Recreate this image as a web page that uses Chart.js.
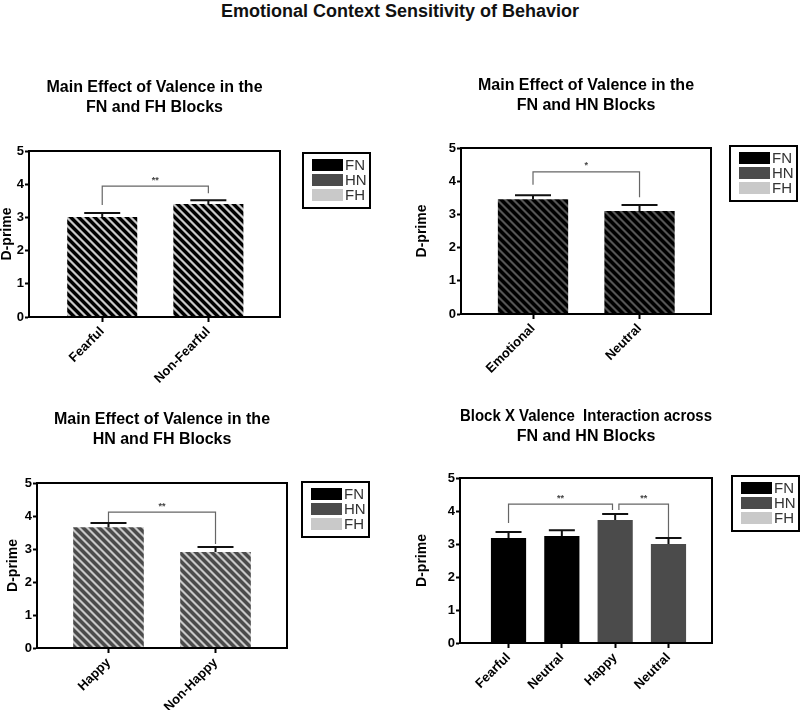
<!DOCTYPE html>
<html>
<head>
<meta charset="utf-8">
<script src="https://cdn.jsdelivr.net/npm/chart.js@4/dist/chart.umd.min.js"></script>
<style>
  body { margin: 0; background: #fff; }
  #page { position: relative; width: 800px; height: 710px; overflow: hidden; }
  #main-title {
    position: absolute; top: 1px; left: 0; width: 800px; text-align: center;
    font: bold 18px 'Liberation Sans Narrow', 'Liberation Sans', Arial, sans-serif;
    color: #111;
  }
  canvas { position: absolute; }
</style>
</head>
<body>
<div id="page">
  <div id="main-title">Emotional Context Sensitivity of Behavior</div>
  <canvas id="p1" width="400" height="330" style="left:0;top:60px"></canvas>
  <canvas id="p2" width="400" height="330" style="left:400px;top:60px"></canvas>
  <canvas id="p3" width="400" height="320" style="left:0;top:390px"></canvas>
  <canvas id="p4" width="400" height="320" style="left:400px;top:390px"></canvas>
</div>
<script>
// ---- data ----
const yTicks = [0, 1, 2, 3, 4, 5];
const legendLabels = ['FN', 'HN', 'FH'];

const p1Categories = ['Fearful', 'Non-Fearful'];
const p1Means = [3.01, 3.40];
const p1Errors = [0.12, 0.12];
const p1Brackets = [{ from: 0, to: 1, y: 3.94, yFrom: 3.37, yTo: 3.73, label: '**' }];

const p2Categories = ['Emotional', 'Neutral'];
const p2Means = [3.46, 3.10];
const p2Errors = [0.12, 0.18];
const p2Brackets = [{ from: 0, to: 1, y: 4.28, yFrom: 3.89, yTo: 3.52, label: '*' }];

const p3Categories = ['Happy', 'Non-Happy'];
const p3Means = [3.66, 2.91];
const p3Errors = [0.13, 0.15];
const p3Brackets = [{ from: 0, to: 1, y: 4.12, yFrom: 3.82, yTo: 3.15, label: '**' }];

const p4Categories = ['Fearful', 'Neutral', 'Happy', 'Neutral'];
const p4Means = [3.18, 3.24, 3.73, 3.00];
const p4Errors = [0.18, 0.18, 0.18, 0.18];
const p4Brackets = [
    { from: 0, to: 1.95, y: 4.21, yFrom: 3.64, yTo: 4.03, label: '**' },
    { from: 2.07, to: 3, y: 4.21, yFrom: 4.03, yTo: 3.21, label: '**' }
];

// ---- styles ----
const FONT = "'Liberation Sans', Arial, sans-serif";
const FN_COLOR = '#000000';
const HN_COLOR = '#4b4b4b';
const FH_COLOR = '#c9c9c9';
const legendColors = [FN_COLOR, HN_COLOR, FH_COLOR];

// diagonal "\" stripes, drawn pixel by pixel so the tile repeats cleanly
const stripes = (fg, bg, mid) => {
    const s = 8;
    const c = document.createElement('canvas');
    c.width = c.height = s;
    const g = c.getContext('2d');
    for (let i = 0; i < s; i++) {
        for (let j = 0; j < s; j++) {
            const d = ((i - j) % s + s) % s;
            g.fillStyle = d < 4 ? fg : (d === 4 || d === 7 ? mid : bg);
            g.fillRect(i, j, 1, 1);
        }
    }
    return g.createPattern(c, 'repeat');
};

// draws frame, error bars, significance brackets and the boxed legend
const extrasPlugin = (cfg) => ({
    id: 'extras',
    afterDatasetsDraw(chart) {
        const { ctx, scales: { x, y } } = chart;
        ctx.save();
        // error bars (upper only)
        ctx.strokeStyle = '#111';
        ctx.lineWidth = 2;
        cfg.means.forEach((m, i) => {
            const px = x.getPixelForValue(i);
            const yb = y.getPixelForValue(m);
            const yt = y.getPixelForValue(m + cfg.errors[i]);
            ctx.beginPath();
            ctx.moveTo(px, yb);
            ctx.lineTo(px, yt);
            ctx.moveTo(px - cfg.capHalf, yt);
            ctx.lineTo(px + cfg.capHalf, yt);
            ctx.stroke();
        });
        // brackets
        ctx.strokeStyle = '#666';
        ctx.lineWidth = 1.2;
        ctx.fillStyle = '#444';
        ctx.font = 'bold 9px ' + FONT;
        ctx.textAlign = 'center';
        ctx.textBaseline = 'middle';
        cfg.brackets.forEach(b => {
            const x1 = x.getPixelForValue(b.from);
            const x2 = x.getPixelForValue(b.to);
            const yy = y.getPixelForValue(b.y);
            ctx.beginPath();
            ctx.moveTo(x1, y.getPixelForValue(b.yFrom));
            ctx.lineTo(x1, yy);
            ctx.lineTo(x2, yy);
            ctx.lineTo(x2, y.getPixelForValue(b.yTo));
            ctx.stroke();
            ctx.fillText(b.label, (x1 + x2) / 2, yy - 6);
        });
        ctx.restore();
    },
    afterDraw(chart) {
        const { ctx, chartArea: a } = chart;
        ctx.save();
        ctx.strokeStyle = '#000';
        ctx.lineWidth = 2;
        ctx.strokeRect(a.left, a.top, a.right - a.left, a.bottom - a.top);

        // legend box
        const lx = a.right + cfg.legendDx;
        const ly = a.top + cfg.legendDy;
        ctx.strokeRect(lx, ly, 67, 55);
        ctx.font = '15px ' + FONT;
        ctx.textAlign = 'left';
        ctx.textBaseline = 'middle';
        legendLabels.forEach((lab, i) => {
            const cy = ly + 12 + i * 15;
            ctx.fillStyle = legendColors[i];
            ctx.fillRect(lx + 9, cy - 6, 31, 12);
            ctx.fillStyle = '#333';
            ctx.fillText(lab, lx + 42, cy + 1);
        });
        ctx.restore();
    }
});

const makePanel = (id, cfg) => {
    const ctx = document.getElementById(id).getContext('2d');
    return new Chart(ctx, {
        type: 'bar',
        data: {
            datasets: [{
                data: cfg.means.map((v, i) => ({ x: i, y: v })),
                backgroundColor: cfg.fills,
                borderWidth: 0,
                categoryPercentage: 1,
                barPercentage: 0.66
            }]
        },
        options: {
            responsive: false,
            animation: false,
            events: [],
            layout: { padding: { left: 0, right: cfg.padRight, top: 0, bottom: 0 } },
            plugins: {
                legend: { display: false },
                tooltip: { enabled: false },
                title: {
                    display: true,
                    fullSize: false,
                    text: cfg.title,
                    color: '#000',
                    font: { family: FONT, size: 16, weight: 'bold', lineHeight: 1.2 },
                    padding: { top: cfg.titleTop, bottom: cfg.titleBottom }
                }
            },
            scales: {
                x: {
                    type: 'linear',
                    min: cfg.xMin,
                    max: cfg.xMax,
                    bounds: 'data',
                    offset: false,
                    afterBuildTicks: s => { s.ticks = cfg.categories.map((c, i) => ({ value: i })); },
                    afterFit: s => { s.height = cfg.xHeight; },
                    ticks: {
                        callback: v => cfg.categories[v],
                        autoSkip: false,
                        minRotation: 45,
                        maxRotation: 45,
                        padding: 2,
                        color: '#000',
                        font: { family: FONT, size: 13, weight: 'bold' }
                    },
                    grid: { offset: false, drawOnChartArea: false, drawTicks: true, tickLength: 5, tickWidth: 2, tickColor: '#000' },
                    border: { color: '#000', width: 2 }
                },
                y: {
                    min: 0,
                    max: 5,
                    afterBuildTicks: s => { s.ticks = yTicks.map(v => ({ value: v })); },
                    afterFit: s => { s.width = cfg.yWidth; },
                    ticks: {
                        padding: 1,
                        color: '#000',
                        font: { family: FONT, size: 13, weight: 'bold' }
                    },
                    title: {
                        display: true,
                        text: 'D-prime',
                        color: '#000',
                        font: { family: FONT, size: 14, weight: 'bold', lineHeight: 1 },
                        padding: { top: cfg.yTitlePad, bottom: 0 }
                    },
                    grid: { drawOnChartArea: false, drawTicks: true, tickLength: 4, tickWidth: 2, tickColor: '#000' },
                    border: { color: '#000', width: 2 }
                }
            }
        },
        plugins: [extrasPlugin(cfg)]
    });
};

const twoBarFill = (fg, bg, mid) => { const p = stripes(fg, bg, mid); return [p, p]; };

makePanel('p1', {
    title: ['Main Effect of Valence in the', 'FN and FH Blocks'],
    categories: p1Categories, means: p1Means, errors: p1Errors, brackets: p1Brackets,
    fills: twoBarFill(FN_COLOR, FH_COLOR, '#707070'),
    xMin: -0.69, xMax: 1.675, capHalf: 18,
    padRight: 120, yWidth: 29, yTitlePad: 0, xHeight: 73,
    titleTop: 18.4, titleBottom: 34.2, legendDx: 23, legendDy: 2
});

makePanel('p2', {
    title: ['Main Effect of Valence in the', 'FN and HN Blocks'],
    categories: p2Categories, means: p2Means, errors: p2Errors, brackets: p2Brackets,
    fills: twoBarFill(FN_COLOR, '#555555', '#2a2a2a'),
    xMin: -0.676, xMax: 1.671, capHalf: 18,
    padRight: 89, yWidth: 61, yTitlePad: 15, xHeight: 76,
    titleTop: 16.4, titleBottom: 33.2, legendDx: 19, legendDy: -2
});

makePanel('p3', {
    title: ['Main Effect of Valence in the', 'HN and FH Blocks'],
    categories: p3Categories, means: p3Means, errors: p3Errors, brackets: p3Brackets,
    fills: twoBarFill(HN_COLOR, FH_COLOR, '#8a8a8a'),
    xMin: -0.668, xMax: 1.668, capHalf: 18,
    padRight: 113, yWidth: 37, yTitlePad: 6, xHeight: 62,
    titleTop: 20.4, titleBottom: 34.2, legendDx: 15, legendDy: -1
});

makePanel('p4', {
    title: ['Block X Valence  Interaction across', 'FN and HN Blocks'],
    categories: p4Categories, means: p4Means, errors: p4Errors, brackets: p4Brackets,
    fills: [FN_COLOR, FN_COLOR, HN_COLOR, HN_COLOR],
    xMin: -0.91, xMax: 3.816, capHalf: 13,
    padRight: 88, yWidth: 60, yTitlePad: 15, xHeight: 67,
    titleTop: 17.4, titleBottom: 32.2, legendDx: 20, legendDy: -2
});
</script>
</body>
</html>
